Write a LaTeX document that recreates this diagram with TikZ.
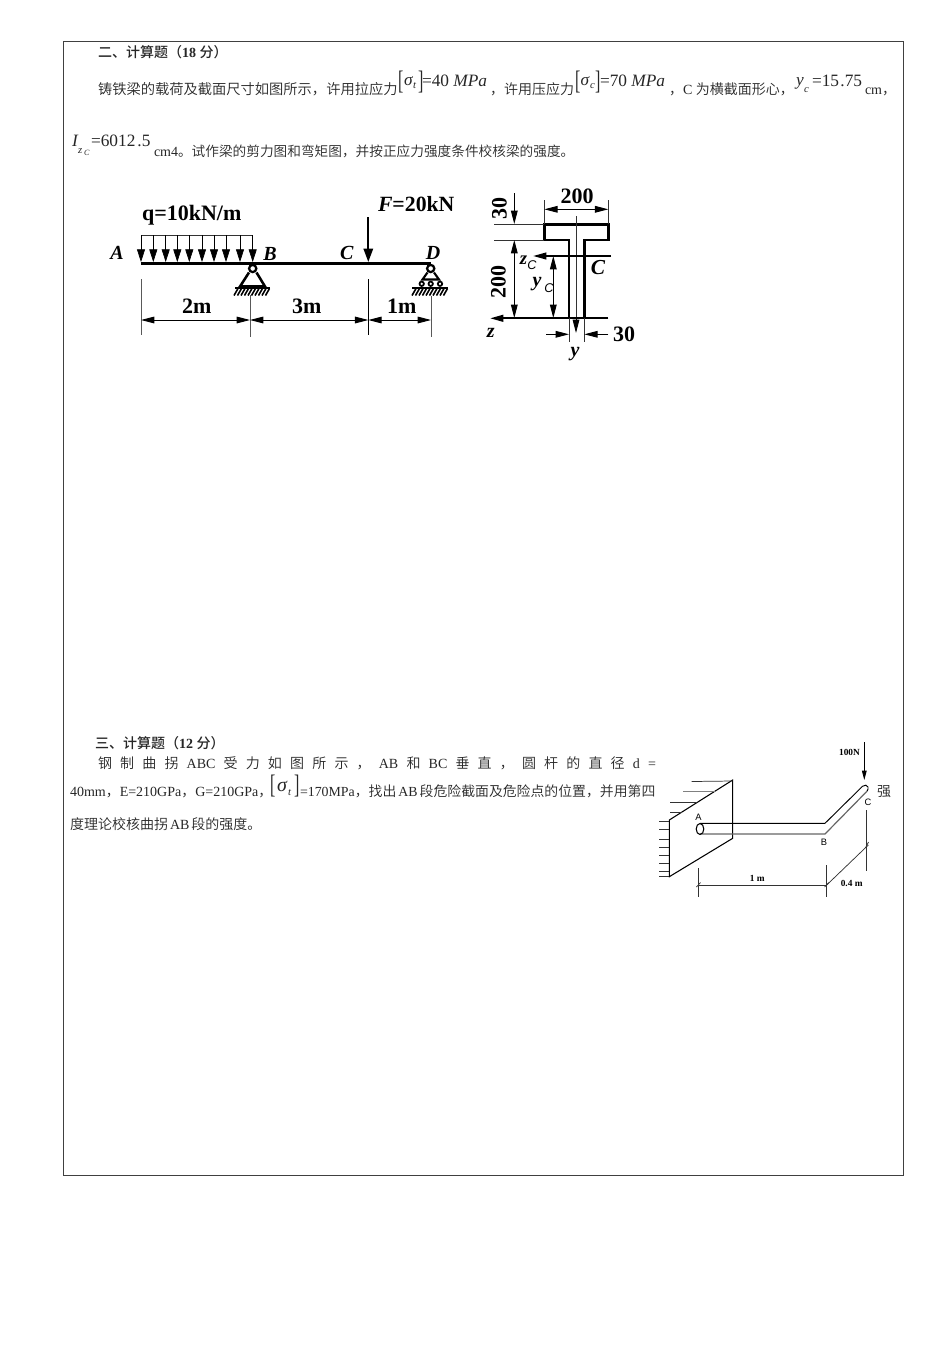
\documentclass[tikz,border=0pt]{standalone}
\usepackage{fontspec}
\usepackage{graphicx}
\setmainfont{Liberation Serif}
\newfontfamily\sns{Liberation Sans}
\newfontfamily\cjk[BoldFont={Noto Sans CJK SC Medium}]{Noto Sans CJK SC DemiLight}
\usetikzlibrary{arrows.meta}
\newcounter{tn}
\newcommand{\Zh}[1]{{\cjk #1}}
\newcommand{\Br}[1]{\scalebox{0.6}[1]{#1}}
% text placed by base-left point in px
\newcommand{\Tx}[4][10.5]{\stepcounter{tn}\node[txt,font=\fontsize{#1}{#1}\selectfont] (t\arabic{tn}) at (#2,#3) {#4};}
% text placed by centre in px
\newcommand{\Lb}[4][13]{\stepcounter{tn}\node[lab,font=\fontsize{#1}{#1}\selectfont\bfseries] (t\arabic{tn}) at (#2,#3) {#4};}
\newcommand{\Sm}[4][6.5]{\stepcounter{tn}\node[lab,font=\fontsize{#1}{#1}\selectfont] (t\arabic{tn}) at (#2,#3) {#4};}
\tikzset{
  txt/.style={anchor=base west,inner sep=0pt,outer sep=0pt,text=black!85},
  lab/.style={anchor=center,inner sep=0pt,outer sep=0pt,text=black},
  bm/.style={line width=2.6pt,black},
  dimln/.style={line width=0.75pt,black!65},
  da/.style={line width=0.7pt,black,{Stealth[length=10pt,width=5pt,inset=0pt]}-{Stealth[length=10pt,width=5pt,inset=0pt]}},
  ra/.style={line width=0.7pt,black,-{Stealth[length=10pt,width=5pt,inset=0pt]}},
  fa/.style={line width=1.5pt,black,-{Stealth[length=10pt,width=7pt,inset=0pt]}},
  th/.style={line width=0.55pt,black!80},
  sec/.style={line width=1.9pt,black},
}
\begin{document}
\begin{tikzpicture}[x=0.75pt,y=-0.75pt]
\useasboundingbox (0,0) rectangle (950,1346);
\draw[line width=0.6pt,black!75] (63.5,41.5) rectangle (903.5,1175.5);

% ---- section 2 text
\Tx{98}{57}{\bfseries\Zh{二、计算题（}18 \Zh{分）}}
\Tx[10.7]{98}{94}{\Zh{铸铁梁的载荷及截面尺寸如图所示，许用拉应力}}
\Tx[20]{398}{89}{\Br{[}}
\Tx[13]{404}{85}{\textit{σ}}
\Tx[8]{413}{88}{\textit{t}}
\Tx[20]{418}{89}{\Br{]}}
\Tx[13]{422}{86}{=40 \textit{MPa}}
\Tx{490}{94}{\Zh{，许用压应力}}
\Tx[20]{575}{89}{\Br{[}}
\Tx[13]{580.5}{85}{\textit{σ}}
\Tx[8]{590}{88}{\textit{c}}
\Tx[20]{595}{89}{\Br{]}}
\Tx[13]{600}{86}{=70 \textit{MPa}}
\Tx{669}{94}{\Zh{，}C \Zh{为横截面形心，}}
\Tx[13]{796}{85}{\textit{y}}
\Tx[8]{804}{92}{\textit{c}}
\Tx[13]{812}{86}{=15\hspace{1pt}.75}
\Tx{865}{94}{cm\Zh{，}}
\Tx[13]{72}{146}{\textit{I}}
\Tx[8]{78}{153}{\textit{z}}
\Tx[6]{84}{155}{\textit{C}}
\Tx[13]{91}{146}{=6012\hspace{1.5pt}.5}
\Tx{154}{156}{cm4}
\Tx[10.25]{178}{156}{\Zh{。试作梁的剪力图和弯矩图，并按正应力强度条件校核梁的强度。}}

% ---- beam
\draw[bm] (140.7,263.3) -- (431,263.3);
\draw[th] (141,235) -- (252.7,235);
\foreach \x in {141,153.3,165.7,177.3,189.3,202,214,226,240,252.7}{
  \draw[line width=0.5pt,black,-{Stealth[length=9.5pt,width=6pt,inset=0pt]}] (\x,235) -- (\x,262);
}
\Lb[16.5]{191.7}{215}{q=10kN/m}
\Lb[15]{117}{253}{\textit{A}}
\Lb[15]{270}{254}{\textit{B}}
\Lb[15]{347}{253}{\textit{C}}
\Lb[15]{433}{253}{\textit{D}}
\stepcounter{tn}\node[lab,anchor=west,font=\fontsize{16.3}{16}\selectfont\bfseries] (t\arabic{tn}) at (378,204) {\textit{F}=20kN};
\draw[fa] (368.3,217) -- (368.3,262);
% support B
\draw[line width=1.7pt] (252.7,268.5) circle[radius=3.6];
\draw[line width=1.9pt,line join=miter] (249,272.5) -- (240,286.5) -- (265,286.5) -- (256.5,272.5);
\draw[line width=1.9pt] (235,288) -- (270,288);
\foreach \x in {236,239.5,...,268}{\draw[line width=1.2pt] (\x+2,288.5) -- (\x-2,295.5);}
% support D
\draw[line width=1.7pt] (430.7,268.5) circle[radius=3.6];
\draw[line width=1.6pt,line join=miter] (427.5,272.5) -- (422.5,279.5) -- (439,279.5) -- (434,272.5);
\foreach \x in {421.7,430.7,440}{\draw[line width=1.3pt] (\x,283.8) circle[radius=2.2];}
\draw[line width=1.9pt] (412,288) -- (448,288);
\foreach \x in {414,417.5,...,446}{\draw[line width=1.2pt] (\x+2,288.5) -- (\x-2,295.5);}
% dims
\draw[dimln] (141,279) -- (141,335);
\draw[dimln] (250,295) -- (250,337);
\draw[black,line width=0.75pt] (368.3,279) -- (368.3,335);
\draw[dimln] (431,296) -- (431,337);
\draw[da] (141,320) -- (250,320);
\draw[da] (250,320) -- (368.3,320);
\draw[da] (368.3,320) -- (431,320);
\Lb[16.5]{196.7}{306.5}{2m}
\Lb[16.5]{306.7}{306.5}{3m}
\Lb[16.5]{401.7}{306.5}{1m}

% ---- T section
\draw[sec,line join=miter] (544.3,224.3) -- (608.3,224.3) -- (608.3,240) -- (584.3,240) -- (584.3,318) -- (569,318) -- (569,240) -- (544.3,240) -- cycle;
\draw[th] (576,216) -- (576,325);
\draw[ra] (576,318) -- (576,333);
\draw[th] (544.3,200) -- (544.3,224);
\draw[th] (608.3,200) -- (608.3,224);
\draw[da] (544.3,209.3) -- (608.3,209.3);
\Lb[16.5]{577}{196}{200}
\draw[th] (494,224.3) -- (544,224.3);
\draw[th] (494,240) -- (544,240);
\draw[ra] (514.3,193.3) -- (514.3,224);
\draw[da] (514.3,240) -- (514.3,318);
\stepcounter{tn}\node[lab,rotate=90,font=\fontsize{16.5}{16}\selectfont\bfseries] (t\arabic{tn}) at (499.3,208.3) {30};
\stepcounter{tn}\node[lab,rotate=90,font=\fontsize{16.5}{16}\selectfont\bfseries] (t\arabic{tn}) at (498.3,281.7) {200};
\draw[line width=1.6pt,black,-{Stealth[length=10pt,width=5pt,inset=0pt]}] (608.3,318.3) -- (490,318.3);
\Lb[15]{490.7}{333}{\textit{z}}
\draw[line width=1.4pt,black,-{Stealth[length=10pt,width=5pt,inset=0pt]}] (611,256) -- (533,256);
\Lb[14]{523.5}{260}{\textit{z}}
\stepcounter{tn}\node[lab,font=\fontsize{9.5}{9.5}\selectfont\sns\itshape] (t\arabic{tn}) at (532,265) {C};
\Lb[16]{598}{268}{\textit{C}}
\draw[da] (553.3,256) -- (553.3,318);
\Lb[15]{537}{284}{\textit{y}}
\stepcounter{tn}\node[lab,font=\fontsize{9.5}{9.5}\selectfont\sns\itshape] (t\arabic{tn}) at (549,288) {C};
\draw[th] (569,318) -- (569,342);
\draw[th] (584.3,318) -- (584.3,342);
\draw[ra] (546,334.3) -- (569,334.3);
\draw[ra] (608.3,334.3) -- (584.3,334.3);
\Lb[16.5]{624}{334}{30}
\Lb[15]{575}{354}{\textit{y}}

% ---- section 3 text
\Tx{95}{748}{\bfseries\Zh{三、计算题（}12 \Zh{分）}}
\stepcounter{tn}\node[txt,font=\fontsize{10.5}{10.5}\selectfont] (t\arabic{tn}) at (98,768) {\makebox[418.5pt][s]{\Zh{钢} \Zh{制} \Zh{曲} \Zh{拐} ABC \Zh{受} \Zh{力} \Zh{如} \Zh{图} \Zh{所} \Zh{示} \Zh{，} AB \Zh{和} BC \Zh{垂} \Zh{直} \Zh{，} \Zh{圆} \Zh{杆} \Zh{的} \Zh{直} \Zh{径} d =}};
\Tx{70}{796}{40mm\Zh{，}E=210GPa\Zh{，}G=210GPa\Zh{，}}
\Tx[20]{270}{793}{\Br{[}}
\Tx[15]{277}{791}{\textit{σ}}
\Tx[8]{288}{795}{\textit{t}}
\Tx[20]{294}{793}{\Br{]}}
\Tx[10.4]{300}{796}{=170MPa\Zh{，找出}\hspace{1.5pt}AB\hspace{1.5pt}\Zh{段危险截面及危险点的位置，并用第四}}
\Tx{70}{829}{\Zh{度理论校核曲拐}\hspace{1.5pt}AB\hspace{1.5pt}\Zh{段的强度。}}
\Tx{877}{796}{\Zh{强}}

% ---- crank figure
\draw[line width=0.8pt] (669.3,820) -- (732.7,780) -- (732.7,838.3) -- (669.3,876.7) -- cycle;
\draw[th] (691.7,781.5) -- (732.7,781);
\draw[line width=0.8pt,black!50] (683,791.7) -- (715,791.7);
\draw[th] (670,802.3) -- (696.7,802.3);
\draw[th] (670,812.3) -- (681.7,812.3);
\foreach \y in {821,829.3,839,847.3,855.7,863.3,871,876.7}{\draw[th] (659.3,\y) -- (669.3,\y);}
\draw[line width=0.7pt] (700,823.3) -- (825,823.3) -- (862.5,786.3) .. controls (864.5,784.5) and (867.5,784.8) .. (868,787) .. controls (868.3,788.5) and (868,790) .. (867,791.2);
\draw[line width=0.9pt,black!60] (867,791.2) -- (825,834) -- (700,834);
\draw[line width=0.8pt] (700,829) ellipse[x radius=3.8,y radius=5.5];
\stepcounter{tn}\node[lab,font=\fontsize{7}{7}\selectfont\sns] (t\arabic{tn}) at (698.5,817) {A};
\stepcounter{tn}\node[lab,font=\fontsize{7}{7}\selectfont\sns] (t\arabic{tn}) at (824,842) {B};
\stepcounter{tn}\node[lab,font=\fontsize{7}{7}\selectfont\sns] (t\arabic{tn}) at (868,802) {C};
\Sm[7]{849.5}{752}{\textbf{100N}}
\draw[line width=0.6pt,black,-{Stealth[length=7pt,width=3.5pt,inset=0pt]}] (864.3,742.3) -- (864.3,780);
\draw[th] (698.3,868.3) -- (698.3,897.3);
\draw[th] (826.7,865) -- (826.7,897.3);
\draw[th] (698.3,885) -- (826.7,885);
\draw[th] (696.5,887) -- (700.5,882.5);
\draw[th] (824.7,887) -- (828.7,882.5);
\Sm[7]{757.3}{878.3}{\textbf{1 m}}
\draw[th] (866.7,810) -- (866.7,871);
\draw[th] (826.7,885) -- (868.3,845);
\draw[th] (865.5,848) -- (868.5,842);
\Sm[7]{851.7}{883}{\textbf{0.4 m}}
\end{tikzpicture}
\end{document}
